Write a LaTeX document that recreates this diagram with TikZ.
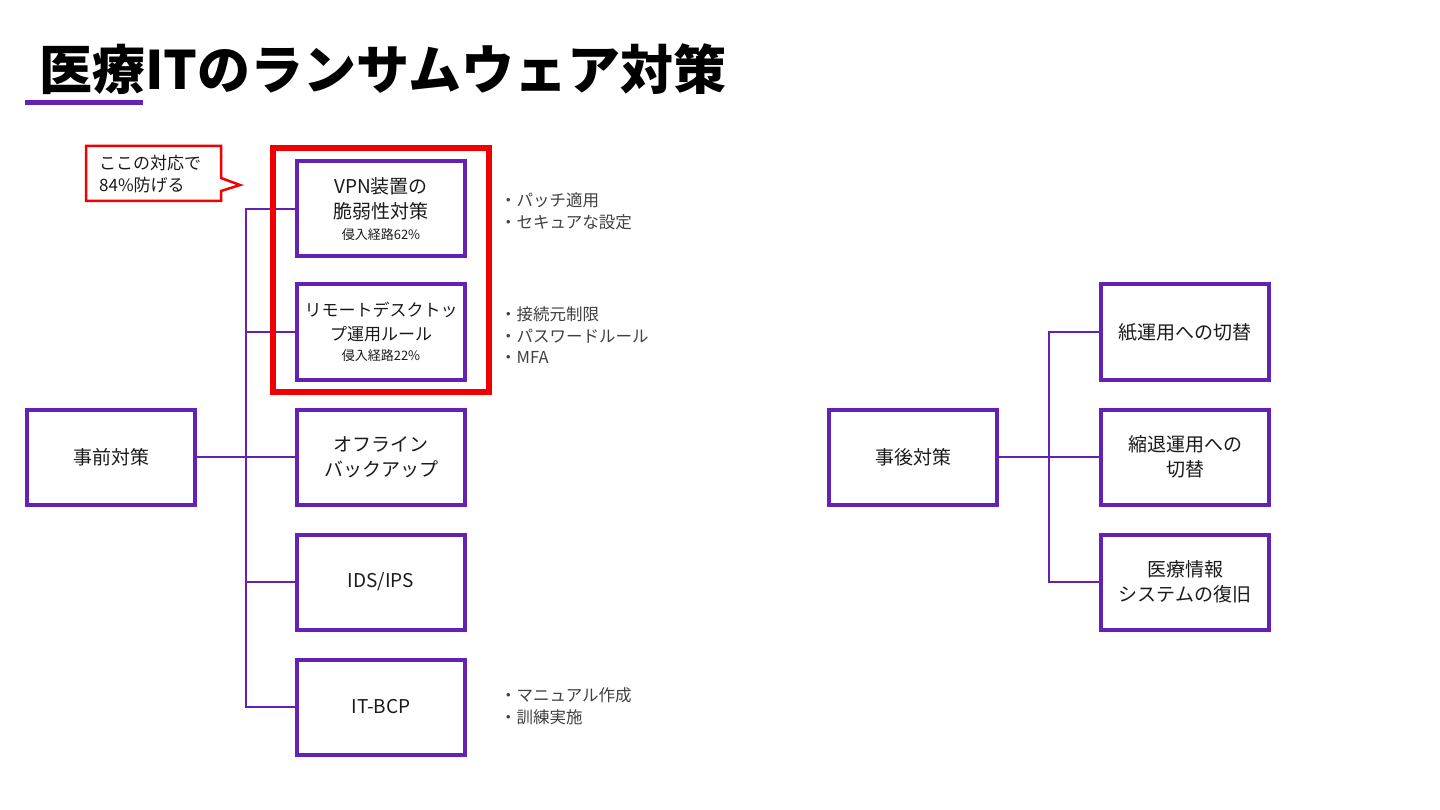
\documentclass[tikz,border=0pt]{standalone}
\usepackage{fontspec}
\setmainfont{Noto Sans CJK JP}
\usetikzlibrary{positioning}
\definecolor{itpurple}{HTML}{6422B4}
\definecolor{itred}{HTML}{F00000}
\definecolor{ittext}{HTML}{1A1A1A}
\definecolor{itgray}{HTML}{404040}
\newcommand\subnotefont{\fontsize{13}{16}\selectfont}

\begin{document}
\begin{tikzpicture}[x=1pt,y=-1pt,
  measure/.style={draw=itpurple,line width=4pt,minimum width=168pt,
    minimum height=95pt,inner sep=0pt,align=center,text=ittext,
    font=\fontsize{19}{25}\selectfont},
  link/.style={draw=itpurple,line width=1.6pt},
  memo/.style={anchor=west,align=left,text=itgray,inner sep=0pt,
    font=\fontsize{16.5}{21.5}\selectfont}]

  \useasboundingbox (0,0) rectangle (1440,810);

  % --- title ---
  \node[anchor=west,inner sep=0pt,text=black,
        font=\fontsize{53}{60}\selectfont\bfseries] (title) at (39,69)
        {医療ITのランサムウェア対策};
  \fill[itpurple] (25,100) rectangle (143,105);

  % --- before the attack ---
  \node[measure] (pre)     at (111,457) {事前対策};
  \node[measure] (vpn)     at (381,209) {VPN装置の\\脆弱性対策\\[-4pt]{\subnotefont 侵入経路62\%}};
  \node[measure,font=\fontsize{17}{24}\selectfont]
                 (rdp)     at (381,332) {リモートデスクトッ\\プ運用ルール\\[-4pt]{\subnotefont 侵入経路22\%}};
  \node[measure] (backup)  at (381,457) {オフライン\\バックアップ};
  \node[measure] (ids)     at (381,582) {IDS/IPS};
  \node[measure] (bcp)     at (381,707) {IT-BCP};

  \coordinate (prejoin) at (246,457);
  \draw[link] (pre.east) -- (prejoin);
  \draw[link] (prejoin) |- (vpn.west);
  \draw[link] (prejoin) |- (rdp.west);
  \draw[link] (prejoin) -- (backup.west);
  \draw[link] (prejoin) |- (ids.west);
  \draw[link] (prejoin) |- (bcp.west);

  % --- notes beside the measures ---
  \node[memo] (vpnmemo) at (500,211.5) {・パッチ適用\\・セキュアな設定};
  \node[memo] (rdpmemo) at (500,335.5) {・接続元制限\\・パスワードルール\\・MFA};
  \node[memo] (bcpmemo) at (500,706.5) {・マニュアル作成\\・訓練実施};

  % --- highlight frame and callout ---
  \draw[itred,line width=6pt] (273,148) rectangle (489,392);
  \draw[itred,line width=2.5pt,fill=white]
       (86,146) -- (221,146) -- (221,178) -- (240,185) -- (221,191)
       -- (221,201) -- (86,201) -- cycle;
  \node[anchor=west,align=left,text=ittext,inner sep=0pt,
        font=\fontsize{17}{22}\selectfont] (callout) at (99,174)
        {ここの対応で\\84\%防げる};

  % --- after the attack ---
  \node[measure] (post)    at (913,457) {事後対策};
  \node[measure] (paper)   at (1185,332) {紙運用への切替};
  \node[measure] (reduced) at (1185,457) {縮退運用への\\切替};
  \node[measure] (restore) at (1185,582) {医療情報\\システムの復旧};

  \coordinate (postjoin) at (1049,457);
  \draw[link] (post.east) -- (postjoin);
  \draw[link] (postjoin) |- (paper.west);
  \draw[link] (postjoin) -- (reduced.west);
  \draw[link] (postjoin) |- (restore.west);

\end{tikzpicture}
\end{document}
